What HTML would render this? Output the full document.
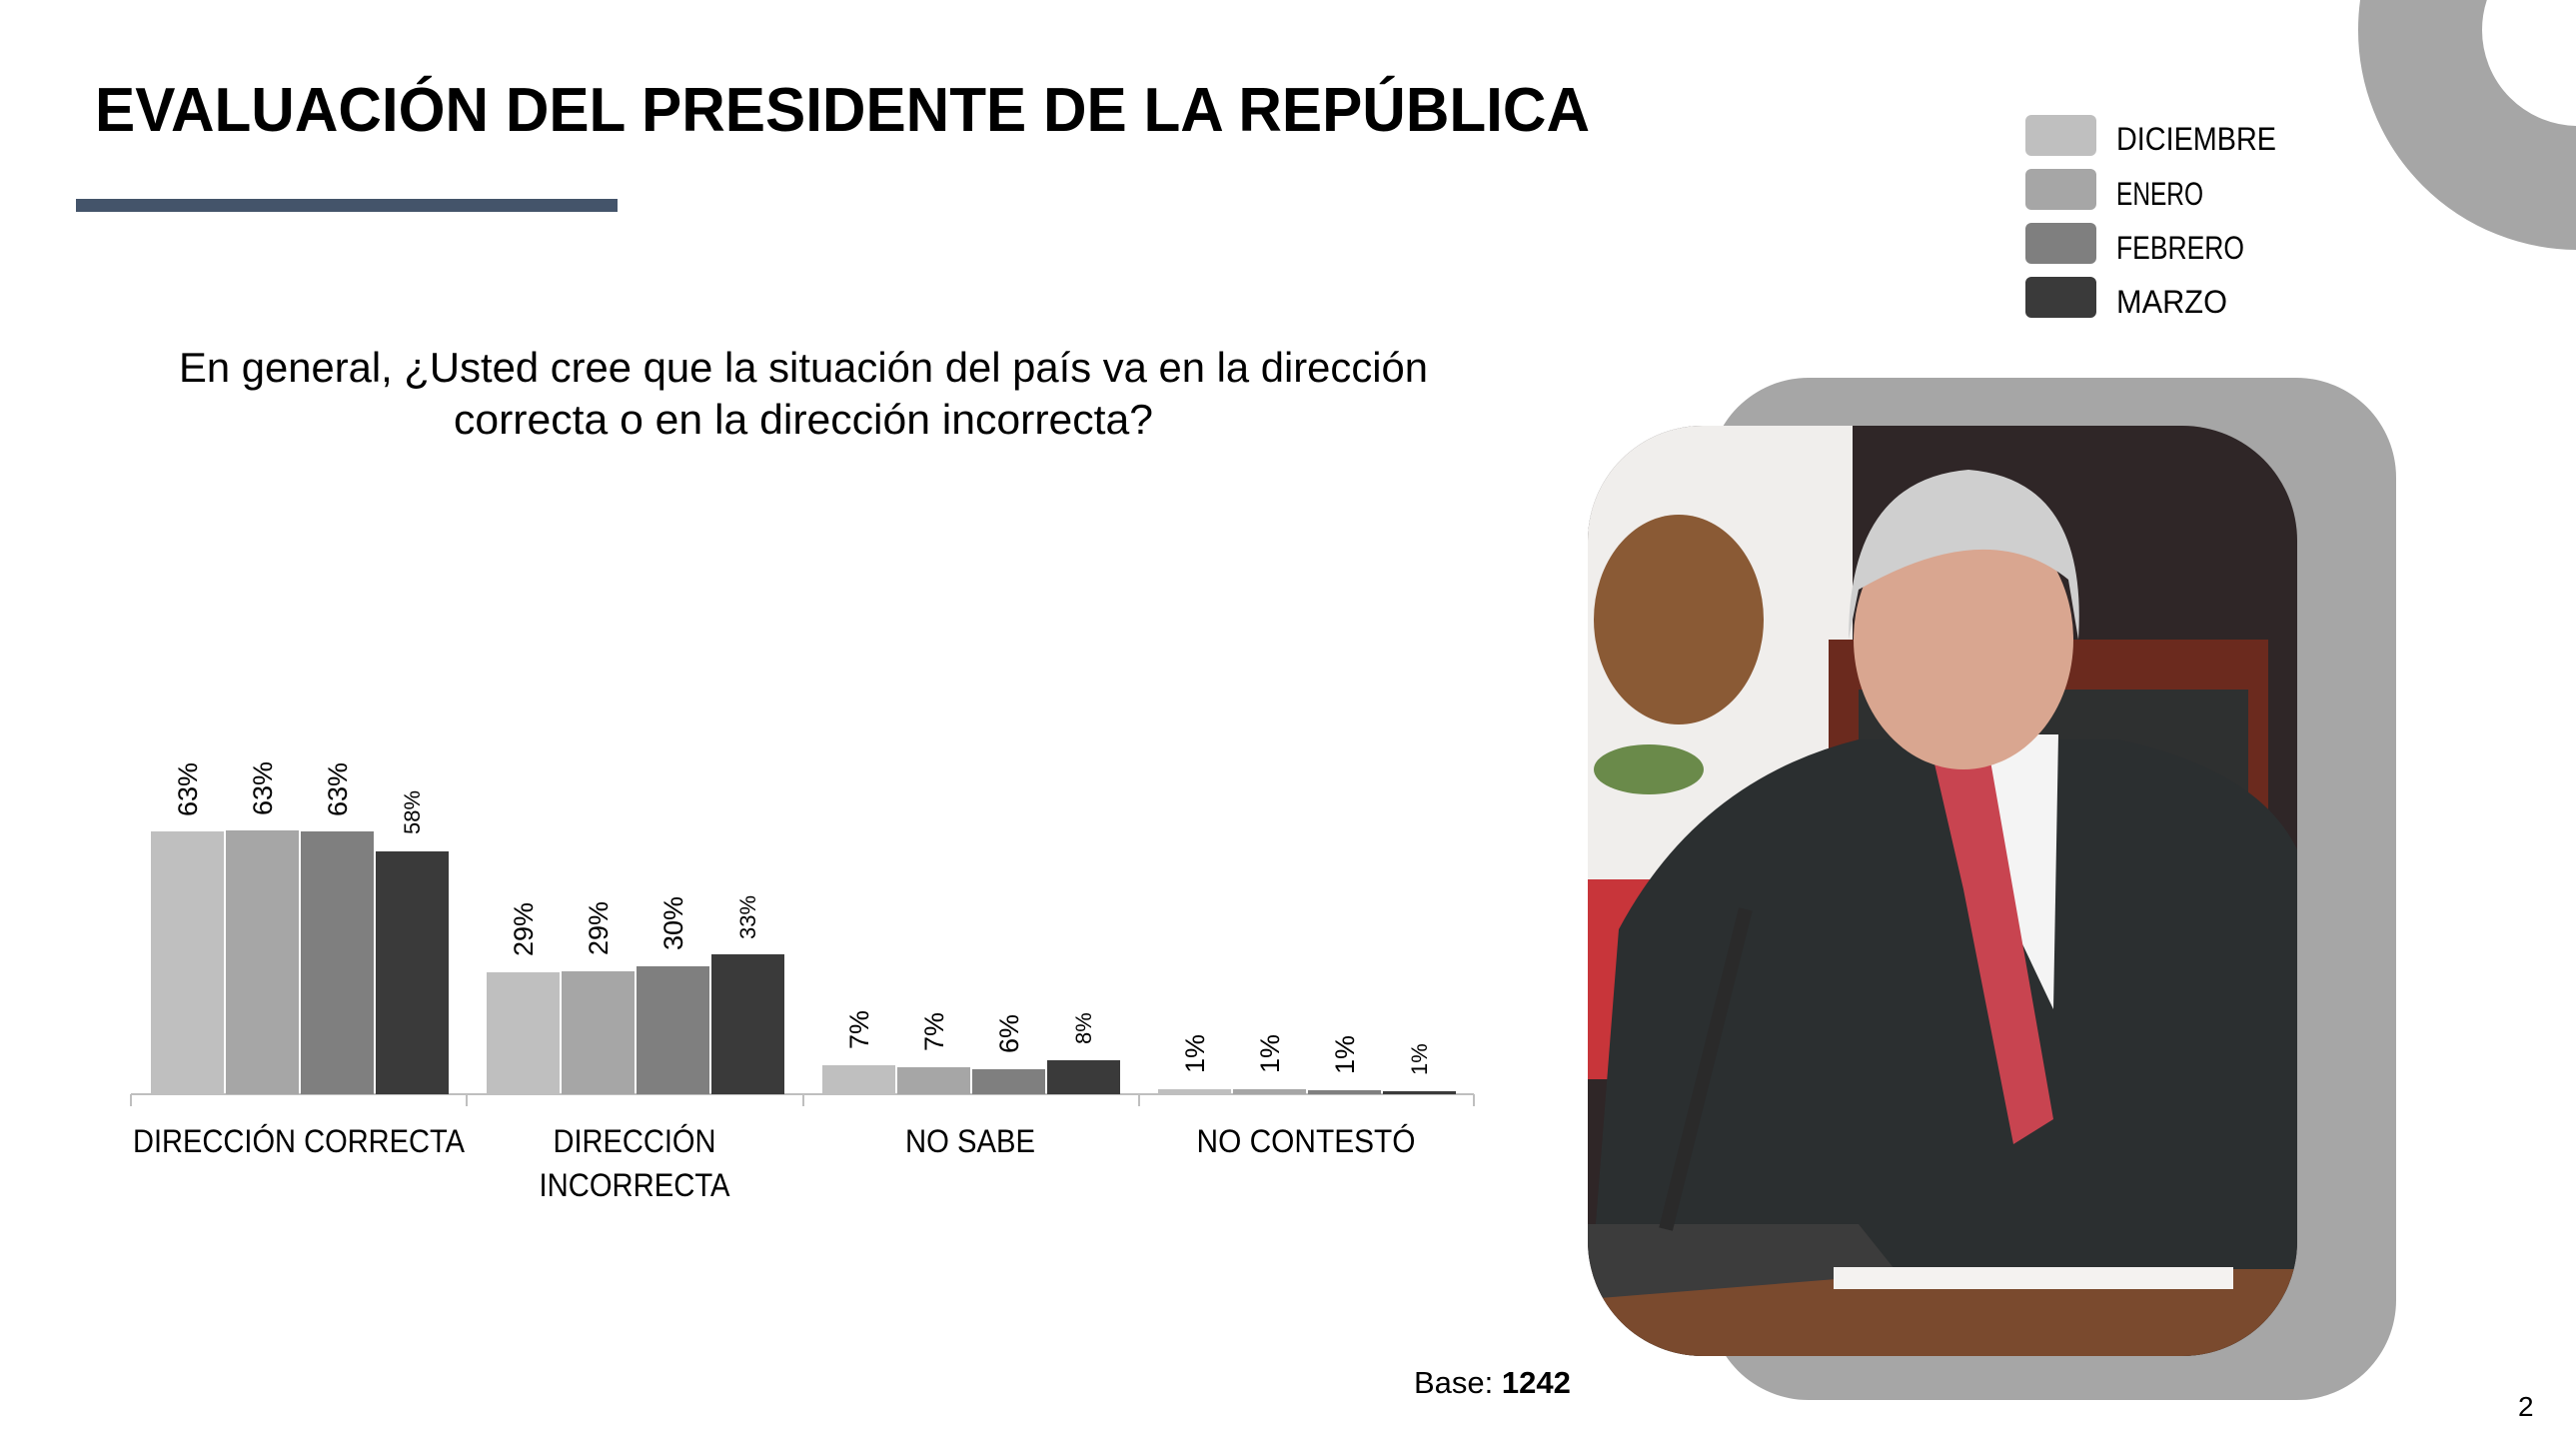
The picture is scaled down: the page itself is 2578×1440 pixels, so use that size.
<!DOCTYPE html>
<html><head><meta charset="utf-8"><style>
html,body{margin:0;padding:0;background:#fff;}
svg{display:block;font-family:"Liberation Sans",sans-serif;}
</style></head><body>
<svg width="2578" height="1440" viewBox="0 0 2578 1440" xmlns="http://www.w3.org/2000/svg">
<defs>
<clipPath id="ph"><rect x="1589" y="426" width="710" height="931" rx="115" ry="115"/></clipPath>
</defs>
<circle cx="2580" cy="30" r="158" fill="none" stroke="#a6a6a6" stroke-width="124"/>
<text x="95" y="131" font-size="62" font-weight="bold" fill="#000" textLength="1496" lengthAdjust="spacingAndGlyphs">EVALUACIÓN DEL PRESIDENTE DE LA REPÚBLICA</text>
<rect x="76" y="199" width="542" height="13" fill="#44546a"/>
<g font-size="32" fill="#000">
<rect x="2027" y="115" width="71" height="41" rx="6" fill="#bfbfbf"/><text x="2118" y="150" textLength="160" lengthAdjust="spacingAndGlyphs">DICIEMBRE</text>
<rect x="2027" y="169" width="71" height="41" rx="6" fill="#a6a6a6"/><text x="2118" y="205" textLength="87" lengthAdjust="spacingAndGlyphs">ENERO</text>
<rect x="2027" y="223" width="71" height="41" rx="6" fill="#7f7f7f"/><text x="2118" y="259" textLength="128" lengthAdjust="spacingAndGlyphs">FEBRERO</text>
<rect x="2027" y="277" width="71" height="41" rx="6" fill="#3a3a3a"/><text x="2118" y="313" textLength="111" lengthAdjust="spacingAndGlyphs">MARZO</text>
</g>
<g font-size="42" fill="#000" text-anchor="middle">
<text x="804" y="382" textLength="1250" lengthAdjust="spacingAndGlyphs">En general, ¿Usted cree que la situación del país va en la dirección</text>
<text x="804" y="434" textLength="700" lengthAdjust="spacingAndGlyphs">correcta o en la dirección incorrecta?</text>
</g>
<g stroke="#bfbfbf" stroke-width="2">
<line x1="131" y1="1095" x2="1475" y2="1095"/>
<line x1="131" y1="1095" x2="131" y2="1107"/>
<line x1="467" y1="1095" x2="467" y2="1107"/>
<line x1="804" y1="1095" x2="804" y2="1107"/>
<line x1="1140" y1="1095" x2="1140" y2="1107"/>
<line x1="1475" y1="1095" x2="1475" y2="1107"/>
</g>
<g>
<rect x="151" y="832" width="73" height="263" fill="#bfbfbf"/>
<rect x="226" y="831" width="73" height="264" fill="#a6a6a6"/>
<rect x="301" y="832" width="73" height="263" fill="#7f7f7f"/>
<rect x="376" y="852" width="73" height="243" fill="#3a3a3a"/>
<rect x="487" y="973" width="73" height="122" fill="#bfbfbf"/>
<rect x="562" y="972" width="73" height="123" fill="#a6a6a6"/>
<rect x="637" y="967" width="73" height="128" fill="#7f7f7f"/>
<rect x="712" y="955" width="73" height="140" fill="#3a3a3a"/>
<rect x="823" y="1066" width="73" height="29" fill="#bfbfbf"/>
<rect x="898" y="1068" width="73" height="27" fill="#a6a6a6"/>
<rect x="973" y="1070" width="73" height="25" fill="#7f7f7f"/>
<rect x="1048" y="1061" width="73" height="34" fill="#3a3a3a"/>
<rect x="1159" y="1090" width="73" height="5" fill="#bfbfbf"/>
<rect x="1234" y="1090" width="73" height="5" fill="#a6a6a6"/>
<rect x="1309" y="1091" width="73" height="4" fill="#7f7f7f"/>
<rect x="1384" y="1092" width="73" height="3" fill="#3a3a3a"/>
</g>
<g fill="#000" font-size="27">
<text transform="translate(197,817) rotate(-90)">63%</text>
<text transform="translate(272,816) rotate(-90)">63%</text>
<text transform="translate(347,817) rotate(-90)">63%</text>
<text transform="translate(420,835) rotate(-90)" font-size="22">58%</text>
<text transform="translate(533,957) rotate(-90)">29%</text>
<text transform="translate(608,956) rotate(-90)">29%</text>
<text transform="translate(683,951) rotate(-90)">30%</text>
<text transform="translate(756,940) rotate(-90)" font-size="22">33%</text>
<text transform="translate(869,1050) rotate(-90)">7%</text>
<text transform="translate(944,1052) rotate(-90)">7%</text>
<text transform="translate(1019,1054) rotate(-90)">6%</text>
<text transform="translate(1092,1045) rotate(-90)" font-size="22">8%</text>
<text transform="translate(1205,1074) rotate(-90)">1%</text>
<text transform="translate(1280,1074) rotate(-90)">1%</text>
<text transform="translate(1355,1075) rotate(-90)">1%</text>
<text transform="translate(1428,1076) rotate(-90)" font-size="22">1%</text>
</g>
<g font-size="32" fill="#000" text-anchor="middle">
<text x="299" y="1153" textLength="332" lengthAdjust="spacingAndGlyphs">DIRECCIÓN CORRECTA</text>
<text x="635" y="1153" textLength="163" lengthAdjust="spacingAndGlyphs">DIRECCIÓN</text>
<text x="635" y="1197" textLength="191" lengthAdjust="spacingAndGlyphs">INCORRECTA</text>
<text x="971" y="1153" textLength="130" lengthAdjust="spacingAndGlyphs">NO SABE</text>
<text x="1307" y="1153" textLength="219" lengthAdjust="spacingAndGlyphs">NO CONTESTÓ</text>
</g>
<rect x="1710" y="378" width="688" height="1023" rx="100" ry="100" fill="#a6a6a6"/>
<g clip-path="url(#ph)">
<rect x="1589" y="426" width="710" height="931" fill="#2f2627"/>
<rect x="1589" y="426" width="265" height="560" fill="#f0eeec"/>
<rect x="1589" y="880" width="80" height="200" fill="#c8353a"/>
<ellipse cx="1680" cy="620" rx="85" ry="105" fill="#8a5a35"/>
<ellipse cx="1650" cy="770" rx="55" ry="25" fill="#6a8a4a"/>
<rect x="1830" y="640" width="440" height="290" fill="#6b2a1e"/>
<rect x="1860" y="690" width="390" height="200" fill="#2e3030"/>
<path d="M1595 1250 L1620 930 Q1700 780 1860 740 L2120 740 Q2260 770 2299 850 L2299 1357 L1589 1357 Z" fill="#2b2f30"/>
<path d="M1925 735 L2060 735 L2055 1010 L1960 810 Z" fill="#f4f4f4"/>
<path d="M1935 760 L1990 750 L2055 1120 L2015 1145 L1965 890 Z" fill="#c84450"/>
<ellipse cx="1965" cy="640" rx="110" ry="130" fill="#d9a690"/>
<path d="M1850 640 Q1850 480 1970 470 Q2090 480 2080 640 L2070 580 Q1990 515 1860 590 Z" fill="#cfcfcf"/>
<rect x="1589" y="1270" width="710" height="87" fill="#7a4a2e"/>
<path d="M1589 1225 L1860 1225 L1900 1275 L1589 1300 Z" fill="#3c3c3c"/>
<rect x="1700" y="905" width="14" height="330" fill="#2a2a2a" transform="rotate(14 1707 1070)"/>
<rect x="1835" y="1268" width="400" height="22" fill="#f4f2f0"/>
</g>
<text x="1415" y="1394" font-size="31" fill="#000">Base: <tspan font-weight="bold">1242</tspan></text>
<text x="2520" y="1417" font-size="28" fill="#000">2</text>
</svg>
</body></html>
